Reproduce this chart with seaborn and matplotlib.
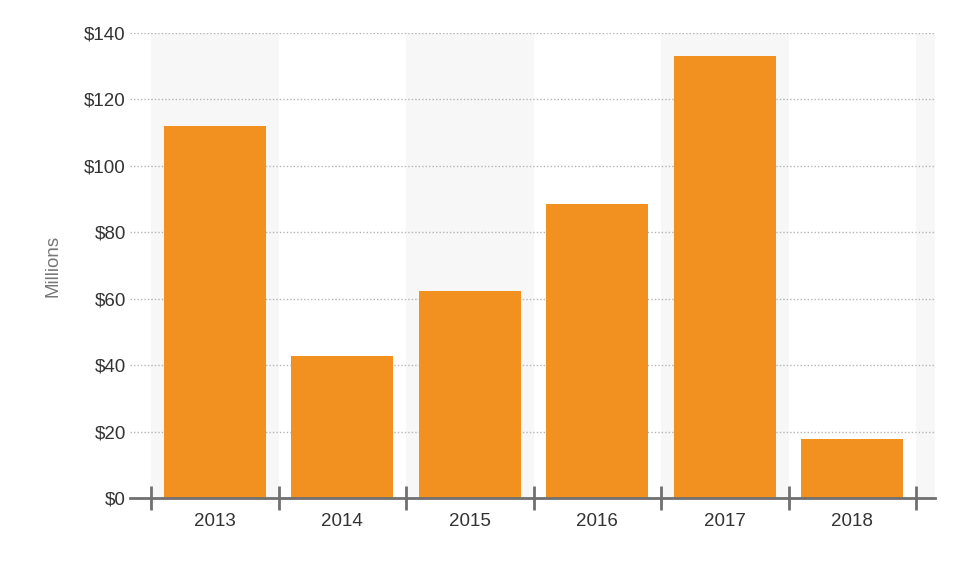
import matplotlib
matplotlib.use("Agg")
import matplotlib.pyplot as plt
import seaborn as sns
import pandas as pd
import numpy as np
from matplotlib.ticker import FixedLocator, FuncFormatter

years = ["2013", "2014", "2015", "2016", "2017", "2018"]
values = [112.0, 42.8, 62.3, 88.5, 133.1, 17.8]
y_ticks = [0, 20, 40, 60, 80, 100, 120, 140]
y_label = "Millions"

sns.set_theme(style="white")
plt.rcParams['font.family'] = ['Liberation Sans', 'DejaVu Sans']

df = pd.DataFrame({"year": years, "value": values})

fig = plt.figure(figsize=(9.65, 5.80), dpi=100)
ax = fig.add_axes([130/965, 82/580, 805/965, 465/580])

n = len(years)
# alternating bands
for i in range(0, n + 1, 2):
    ax.axvspan(i - 0.5, i + 0.5, color="#f7f7f7", zorder=0, lw=0)

sns.barplot(data=df, x="year", y="value", color="#F29020", saturation=1,
            width=0.8, ax=ax, zorder=3, linewidth=0)

ax.set_xlim(-0.665, n - 0.5 + 0.149)
ax.set_ylim(0, 140)

ax.yaxis.set_major_locator(FixedLocator(y_ticks))
ax.yaxis.set_major_formatter(FuncFormatter(lambda v, p: f"${v:.0f}"))
for t in y_ticks[1:]:
    ax.axhline(t, color="#b5b5b5", lw=1, ls=(0, (1, 1.5)), zorder=1)

for s in ["top", "right", "left"]:
    ax.spines[s].set_visible(False)
ax.spines["bottom"].set_color("#707070")
ax.spines["bottom"].set_linewidth(2)
ax.spines["bottom"].set_zorder(5)

ax.set_xticks(range(n))
ax.set_xticklabels(years)
ax.set_xticks(np.arange(-0.5, n, 1.0), minor=True)
ax.tick_params(axis="x", which="major", bottom=True, length=0, pad=11,
               labelsize=13.5, labelcolor="#333333")
ax.tick_params(axis="x", which="minor", bottom=True, direction="inout",
               length=17, width=2, color="#707070")
ax.tick_params(axis="y", left=False, length=0, pad=3, labelsize=13.5, labelcolor="#333333")

ax.set_xlabel("")
ax.set_ylabel(y_label, fontsize=13.5, color="#777777", labelpad=16)

fig.savefig("out.png", dpi=100)
